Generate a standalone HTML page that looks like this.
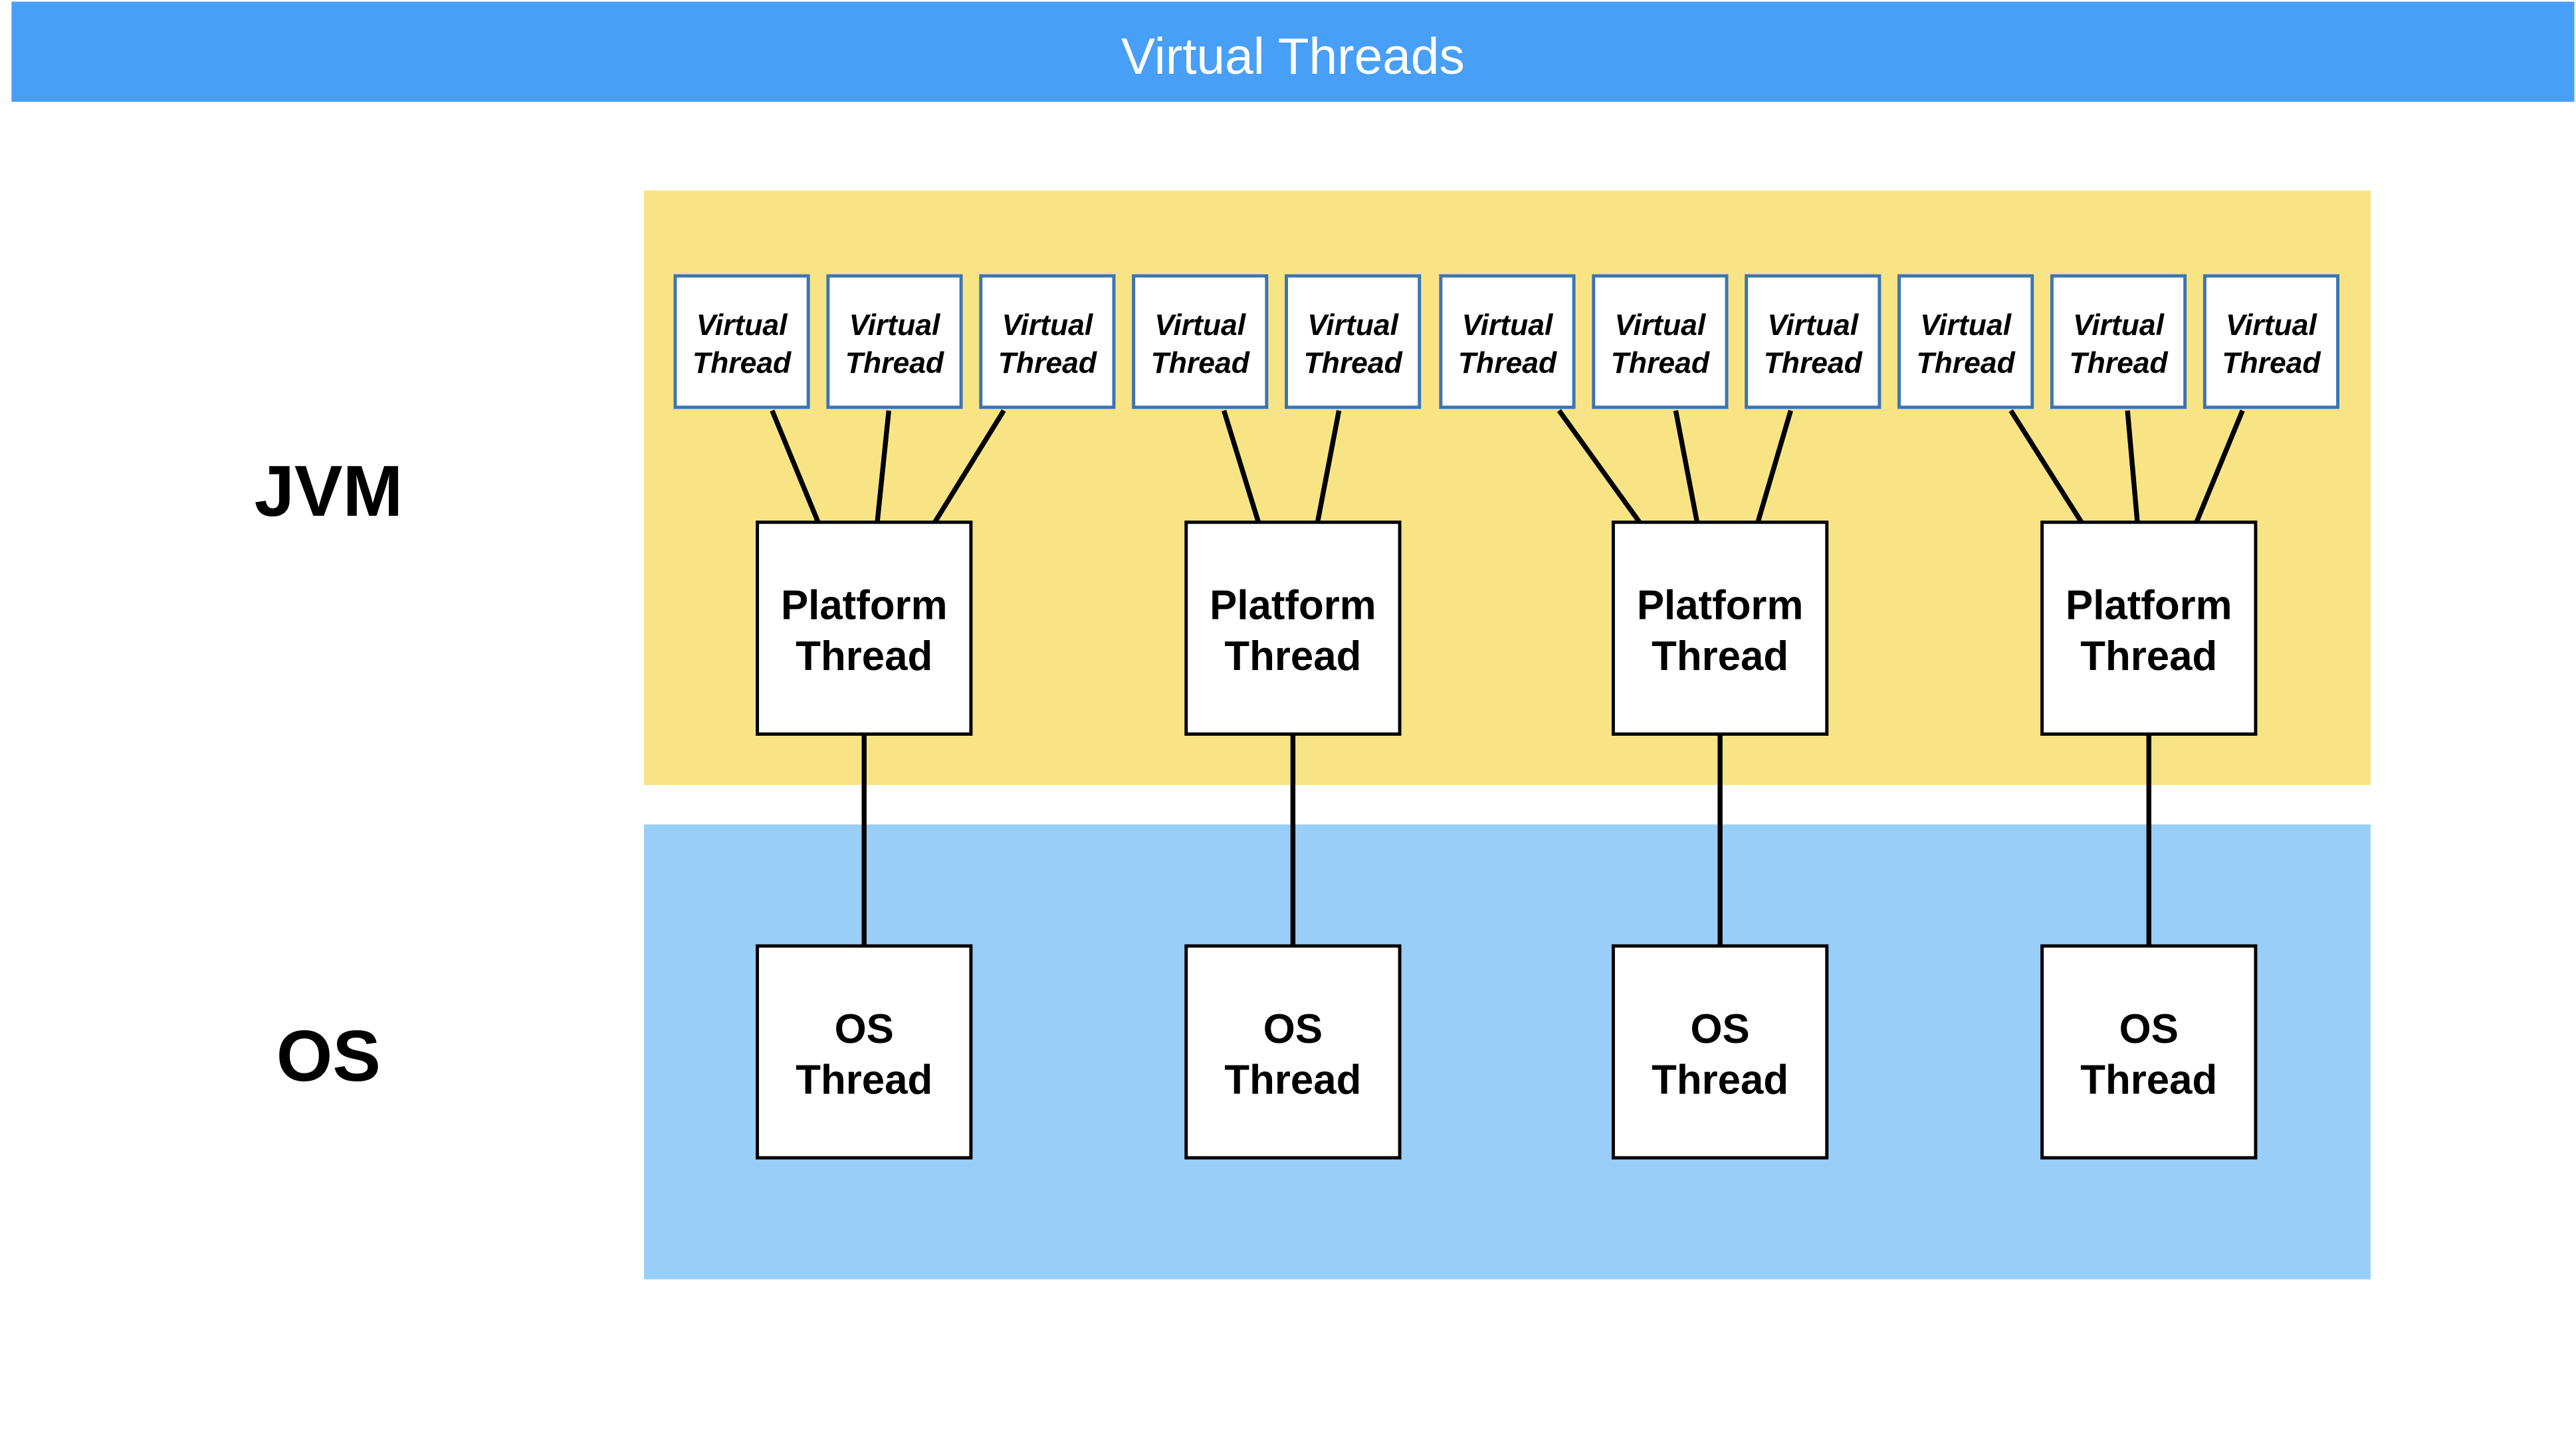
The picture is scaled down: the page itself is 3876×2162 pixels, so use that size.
<!DOCTYPE html>
<html><head><meta charset="utf-8"><style>
html,body{margin:0;padding:0;background:#fff;}
svg{display:block;}
text{font-family:"Liberation Sans",Arial,sans-serif;}
</style></head><body>
<svg width="3876" height="2162" viewBox="0 0 1568 875" preserveAspectRatio="none" xmlns="http://www.w3.org/2000/svg">
<rect x="0" y="0" width="1568" height="875" fill="#fff"/>
<rect x="7" y="1" width="1560" height="61" fill="#489ff7"/>
<text x="787" y="45" font-size="31" fill="#fff" text-anchor="middle">Virtual Threads</text>
<rect x="392" y="116" width="1051" height="362" fill="#f9e485"/>
<rect x="392" y="502" width="1051" height="277" fill="#99cef9"/>
<text x="200" y="314" font-size="44" font-weight="bold" text-anchor="middle">JVM</text>
<text x="200" y="658" font-size="44" font-weight="bold" text-anchor="middle">OS</text>
<g stroke="#000" stroke-width="3">
<line x1="470" y1="250" x2="498" y2="318"/><line x1="541" y1="250" x2="534" y2="318"/><line x1="611" y1="250" x2="569" y2="318"/>
<line x1="745" y1="250" x2="766" y2="318"/><line x1="815" y1="250" x2="802" y2="318"/>
<line x1="949" y1="250" x2="998" y2="318"/><line x1="1020" y1="250" x2="1033" y2="318"/><line x1="1090" y1="250" x2="1070" y2="318"/>
<line x1="1224" y1="250" x2="1267" y2="318"/><line x1="1295" y1="250" x2="1301" y2="318"/><line x1="1365" y1="250" x2="1337" y2="318"/>
<line x1="526" y1="447" x2="526" y2="576"/><line x1="787" y1="447" x2="787" y2="576"/><line x1="1047" y1="447" x2="1047" y2="576"/><line x1="1308" y1="447" x2="1308" y2="576"/>
</g>
<g fill="#fff" stroke="#3b75b4" stroke-width="2">
<rect x="411" y="168" width="81" height="80"/><rect x="504" y="168" width="81" height="80"/><rect x="597" y="168" width="81" height="80"/>
<rect x="690" y="168" width="81" height="80"/><rect x="783" y="168" width="81" height="80"/><rect x="877" y="168" width="81" height="80"/>
<rect x="970" y="168" width="81" height="80"/><rect x="1063" y="168" width="81" height="80"/><rect x="1156" y="168" width="81" height="80"/>
<rect x="1249" y="168" width="81" height="80"/><rect x="1342" y="168" width="81" height="80"/>
</g>
<g font-size="18" font-style="italic" font-weight="bold" text-anchor="middle" fill="#000">
<text x="451.5" y="204">Virtual</text><text x="451.5" y="227">Thread</text>
<text x="544.5" y="204">Virtual</text><text x="544.5" y="227">Thread</text>
<text x="637.5" y="204">Virtual</text><text x="637.5" y="227">Thread</text>
<text x="730.5" y="204">Virtual</text><text x="730.5" y="227">Thread</text>
<text x="823.5" y="204">Virtual</text><text x="823.5" y="227">Thread</text>
<text x="917.5" y="204">Virtual</text><text x="917.5" y="227">Thread</text>
<text x="1010.5" y="204">Virtual</text><text x="1010.5" y="227">Thread</text>
<text x="1103.5" y="204">Virtual</text><text x="1103.5" y="227">Thread</text>
<text x="1196.5" y="204">Virtual</text><text x="1196.5" y="227">Thread</text>
<text x="1289.5" y="204">Virtual</text><text x="1289.5" y="227">Thread</text>
<text x="1382.5" y="204">Virtual</text><text x="1382.5" y="227">Thread</text>
</g>
<g fill="#fff" stroke="#000" stroke-width="2">
<rect x="461" y="318" width="130" height="129"/><rect x="722" y="318" width="130" height="129"/>
<rect x="982" y="318" width="130" height="129"/><rect x="1243" y="318" width="130" height="129"/>
<rect x="461" y="576" width="130" height="129"/><rect x="722" y="576" width="130" height="129"/>
<rect x="982" y="576" width="130" height="129"/><rect x="1243" y="576" width="130" height="129"/>
</g>
<g font-size="25" font-weight="bold" text-anchor="middle" fill="#000">
<text x="526" y="377">Platform</text><text x="526" y="408">Thread</text>
<text x="787" y="377">Platform</text><text x="787" y="408">Thread</text>
<text x="1047" y="377">Platform</text><text x="1047" y="408">Thread</text>
<text x="1308" y="377">Platform</text><text x="1308" y="408">Thread</text>
<text x="526" y="635">OS</text><text x="526" y="666">Thread</text>
<text x="787" y="635">OS</text><text x="787" y="666">Thread</text>
<text x="1047" y="635">OS</text><text x="1047" y="666">Thread</text>
<text x="1308" y="635">OS</text><text x="1308" y="666">Thread</text>
</g>
</svg>
</body></html>
